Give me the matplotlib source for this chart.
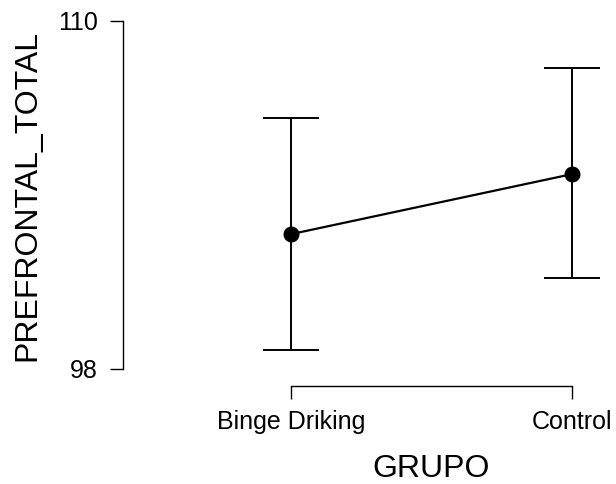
import matplotlib
matplotlib.use("Agg")
import matplotlib.pyplot as plt
from matplotlib.transforms import blended_transform_factory

plt.rcParams['font.family'] = ['Liberation Sans', 'DejaVu Sans']

# Descriptive statistics: group means with 95% CI bounds
groups = ["Binge Driking", "Control"]
means = [102.65, 104.72]
ci_lower = [98.65, 101.13]
ci_upper = [106.67, 108.39]
y_ticks = [98, 110]

W, H = 616, 484
fig = plt.figure(figsize=(W / 100, H / 100), dpi=100)

# axes box in pixel units (left, top, right, bottom)
L, T, R, B = 123, 21, 616, 386
ax = fig.add_axes([L / W, 1 - B / H, (R - L) / W, (B - T) / H])

x = list(range(len(groups)))
yerr = [[m - lo for m, lo in zip(means, ci_lower)],
        [hi - m for m, hi in zip(means, ci_upper)]]

ax.errorbar(x, means, yerr=yerr, fmt='none', ecolor='black',
            elinewidth=1.4, capsize=20, capthick=1.4, zorder=2)
ax.plot(x, means, color='black', linewidth=1.6, marker='o',
        markersize=10.5, markerfacecolor='black', zorder=3)

# axis ranges: 1 data unit along x spans 281 px, first group at x=291 px
px_per_x = 572 - 291
ax.set_xlim(-(291 - L) / px_per_x, (R - 291) / px_per_x)
px_per_y = (369 - 21) / (y_ticks[1] - y_ticks[0])
ax.set_ylim(y_ticks[0] - (B - 369) / px_per_y, y_ticks[1])

ax.set_xticks(x)
ax.set_xticklabels(groups, fontsize=18)
ax.set_yticks(y_ticks)
ax.set_yticklabels([str(v) for v in y_ticks], fontsize=18)

for side in ['top', 'right']:
    ax.spines[side].set_visible(False)
ax.spines['left'].set_bounds(y_ticks[0], y_ticks[1])
ax.spines['bottom'].set_bounds(x[0], x[-1])
for side in ['left', 'bottom']:
    ax.spines[side].set_linewidth(1.0)
ax.tick_params(axis='both', direction='out', length=9.5, width=1.0,
               color='black', labelcolor='black')
ax.tick_params(axis='y', pad=8.5)
ax.tick_params(axis='x', pad=8)

# axis titles
trans = blended_transform_factory(ax.transData, fig.transFigure)
ax.text(0.5, (H - 477) / H, "GRUPO", transform=trans, fontsize=23,
        ha='center', va='baseline')
fig.text(35 / W, (H - 195) / H, "PREFRONTAL_TOTAL", fontsize=23,
         rotation=90, rotation_mode='anchor', ha='center', va='baseline')

fig.savefig("out.png", dpi=100)
